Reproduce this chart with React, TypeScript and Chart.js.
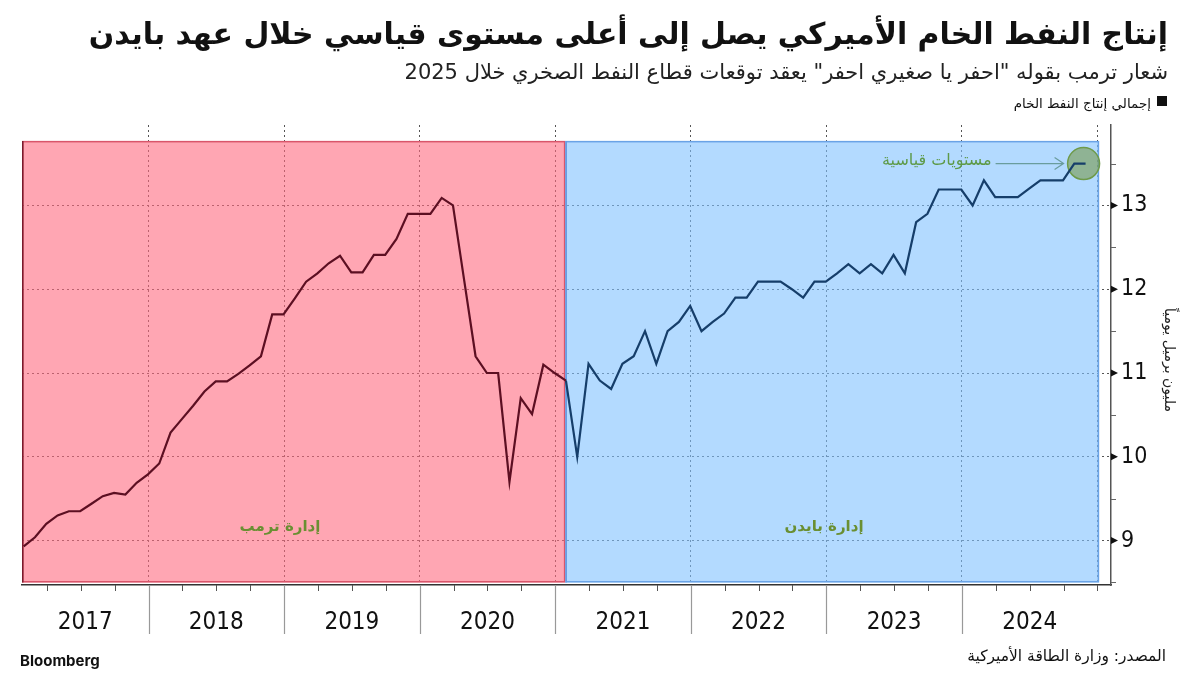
import { useEffect, useRef } from "react";
import { Chart, registerables } from "chart.js";

Chart.register(...registerables);

// ---------- DATA ----------
// Monthly U.S. crude oil production (million barrels per day), Jan 2017 – Nov 2024
const PRODUCTION = [
  8.93, 9.04, 9.2, 9.3, 9.35, 9.35, 9.44, 9.53, 9.57, 9.55, 9.69, 9.79, // 2017
  9.92, 10.29, 10.45, 10.61, 10.78, 10.9, 10.9, 10.99, 11.09, 11.2, 11.7, 11.7, // 2018
  11.89, 12.09, 12.19, 12.31, 12.4, 12.2, 12.2, 12.41, 12.41, 12.6, 12.9, 12.9, // 2019
  12.9, 13.09, 13.0, 12.1, 11.2, 11.0, 11.0, 9.7, 10.7, 10.51, 11.1, 11.0, // 2020
  10.91, 10.0, 11.11, 10.91, 10.81, 11.11, 11.2, 11.5, 11.11, 11.5, 11.61, 11.8, // 2021
  11.5, 11.61, 11.71, 11.9, 11.9, 12.09, 12.09, 12.09, 12.0, 11.9, 12.09, 12.09, // 2022
  12.19, 12.3, 12.19, 12.3, 12.19, 12.41, 12.19, 12.8, 12.9, 13.19, 13.19, 13.19, // 2023
  13.0, 13.3, 13.1, 13.1, 13.1, 13.2, 13.3, 13.3, 13.3, 13.5, 13.5, // 2024
];
const YEARS = ["2017", "2018", "2019", "2020", "2021", "2022", "2023", "2024"];
const Y_TICKS = [9, 10, 11, 12, 13];
const TRANSITION_INDEX = 48; // Jan 2021 – Biden inauguration
const TRUMP_LABEL = "إدارة ترمب";
const BIDEN_LABEL = "إدارة بايدن";
const RECORD_LABEL = "مستويات قياسية";

const TITLE = "إنتاج النفط الخام الأميركي يصل إلى أعلى مستوى قياسي خلال عهد بايدن";
const SUBTITLE = 'شعار ترمب بقوله "احفر يا صغيري احفر" يعقد توقعات قطاع النفط الصخري خلال 2025';
const LEGEND = "إجمالي إنتاج النفط الخام";
const Y_TITLE = "مليون برميل يومياً";
const SOURCE = "المصدر: وزارة الطاقة الأميركية";

// ---------- STYLE ----------
const AR = "'DejaVu Sans', sans-serif";
const NARROW = "'Liberation Sans Narrow', 'DejaVu Sans Condensed', 'Liberation Sans', sans-serif";
const X_MIN = 0.8;
const X_MAX = 97.2;
const Y_MIN = 8.47;
const Y_MAX = 13.96;
const POINT_OFFSET = 0.95; // month value plotted at month end
const BOX_TOP = 13.77;
const BOX_BOTTOM = 8.5;
const TRANSITION_X = 48.9;
const PERIOD_END = 96.15;

const monthX = (i: number) => i + POINT_OFFSET;

function fitFont(ctx: CanvasRenderingContext2D, text: string, weight: string, family: string, target: number, maxSize: number) {
  ctx.font = `${weight} 20px ${family}`;
  const w = ctx.measureText(text).width;
  return Math.min(maxSize, (20 * target) / w);
}

const decor = {
  id: "decor",
  beforeDatasetsDraw(chart: any) {
    const { ctx, scales } = chart;
    const x = scales.x;
    const y = scales.y;
    const t = y.getPixelForValue(BOX_TOP);
    const b = y.getPixelForValue(BOX_BOTTOM);
    const periods = [
      { s: X_MIN, e: TRANSITION_X, fill: "rgba(255,107,128,0.6)", stroke: "#d9566b", left: "#7a1a2c" },
      { s: TRANSITION_X, e: PERIOD_END, fill: "rgba(128,193,255,0.6)", stroke: "#6aa3e6", left: "#6a9be0" },
    ];
    ctx.save();
    periods.forEach((p) => {
      const l = x.getPixelForValue(p.s);
      const r = x.getPixelForValue(p.e);
      ctx.fillStyle = p.fill;
      ctx.fillRect(l, t, r - l, b - t);
      ctx.strokeStyle = p.stroke;
      ctx.lineWidth = 1.5;
      ctx.strokeRect(l + 0.75, t + 0.75, r - l - 1.5, b - t - 1.5);
      ctx.strokeStyle = p.left;
      ctx.beginPath();
      ctx.moveTo(l + 0.75, t);
      ctx.lineTo(l + 0.75, b);
      ctx.stroke();
    });
    // period labels
    ctx.fillStyle = "#6a8f32";
    ctx.font = `bold 15px ${AR}`;
    ctx.textAlign = "center";
    ctx.textBaseline = "middle";
    ctx.direction = "rtl";
    ctx.fillText(TRUMP_LABEL, x.getPixelForValue(23.64), y.getPixelForValue(9.16));
    ctx.fillText(BIDEN_LABEL, x.getPixelForValue(71.8), y.getPixelForValue(9.16));
    // record circle
    const last = PRODUCTION.length - 1;
    const cx = x.getPixelForValue(monthX(last)) - 2;
    const cy = y.getPixelForValue(PRODUCTION[last]);
    ctx.beginPath();
    ctx.arc(cx, cy, 16, 0, Math.PI * 2);
    ctx.fillStyle = "rgba(120,153,77,0.6)";
    ctx.fill();
    ctx.strokeStyle = "#6e9a4a";
    ctx.lineWidth = 1.5;
    ctx.stroke();
    ctx.restore();
  },
  afterDraw(chart: any) {
    const { ctx, scales } = chart;
    const x = scales.x;
    const y = scales.y;
    const area = chart.chartArea;
    ctx.save();

    // record arrow + label
    const last = PRODUCTION.length - 1;
    const cx = x.getPixelForValue(monthX(last)) - 2;
    const cy = y.getPixelForValue(PRODUCTION[last]);
    ctx.strokeStyle = "#6a9c9c";
    ctx.lineWidth = 1.2;
    ctx.beginPath();
    ctx.moveTo(cx - 88, cy);
    ctx.lineTo(cx - 20, cy);
    ctx.moveTo(cx - 29, cy - 6);
    ctx.lineTo(cx - 20, cy);
    ctx.lineTo(cx - 29, cy + 6);
    ctx.stroke();
    ctx.fillStyle = "#5e9a48";
    ctx.font = `16px ${AR}`;
    ctx.direction = "rtl";
    ctx.textAlign = "right";
    ctx.textBaseline = "middle";
    ctx.fillText(RECORD_LABEL, cx - 92, cy - 3);

    // y-axis arrow ticks and minor ticks
    const axX = area.right;
    ctx.fillStyle = "#111";
    Y_TICKS.forEach((v) => {
      const py = y.getPixelForValue(v);
      ctx.beginPath();
      ctx.moveTo(axX, py - 3.5);
      ctx.lineTo(axX + 7, py);
      ctx.lineTo(axX, py + 3.5);
      ctx.closePath();
      ctx.fill();
    });
    ctx.strokeStyle = "#666";
    ctx.lineWidth = 1;
    for (let v = 8.5; v <= 13.5; v += 1) {
      const py = Math.round(y.getPixelForValue(v)) + 0.5;
      ctx.beginPath();
      ctx.moveTo(axX, py);
      ctx.lineTo(axX + 5, py);
      ctx.stroke();
    }

    // x-axis quarter ticks, year separators, year labels
    const bottom = area.bottom;
    ctx.strokeStyle = "#555";
    for (let q = 3; q <= 96; q += 3) {
      const px = Math.round(x.getPixelForValue(q)) + 0.5;
      ctx.beginPath();
      ctx.moveTo(px, bottom);
      ctx.lineTo(px, bottom + 6);
      ctx.stroke();
    }
    ctx.strokeStyle = "#999";
    ctx.lineWidth = 1.2;
    for (let i = 1; i < YEARS.length; i++) {
      const px = Math.round(x.getPixelForValue(i * 12)) + 0.5;
      ctx.beginPath();
      ctx.moveTo(px, bottom);
      ctx.lineTo(px, bottom + 49);
      ctx.stroke();
    }
    ctx.fillStyle = "#111";
    ctx.font = `24px ${NARROW}`;
    ctx.direction = "ltr";
    ctx.textAlign = "center";
    ctx.textBaseline = "middle";
    YEARS.forEach((yr, i) => {
      const s = Math.max(i * 12, X_MIN);
      const e = Math.min((i + 1) * 12, 96);
      const px = (x.getPixelForValue(s) + x.getPixelForValue(e)) / 2;
      ctx.fillText(yr, px, bottom + 38);
    });

    // y-axis title (rotated)
    ctx.save();
    ctx.translate(1169, 360);
    ctx.rotate(Math.PI / 2);
    ctx.font = `14px ${AR}`;
    ctx.direction = "rtl";
    ctx.textAlign = "center";
    ctx.textBaseline = "middle";
    ctx.fillStyle = "#222";
    ctx.fillText(Y_TITLE, 0, 0);
    ctx.restore();

    // titles
    ctx.direction = "rtl";
    ctx.textAlign = "right";
    ctx.textBaseline = "alphabetic";
    ctx.fillStyle = "#111";
    const ts = fitFont(ctx, TITLE, "bold", AR, 1080, 34);
    ctx.font = `bold ${ts}px ${AR}`;
    ctx.fillText(TITLE, 1168, 44);
    const ss = fitFont(ctx, SUBTITLE, "normal", AR, 780, 21);
    ctx.font = `${ss}px ${AR}`;
    ctx.fillStyle = "#222";
    ctx.fillText(SUBTITLE, 1168, 79);
    // legend
    ctx.fillStyle = "#111";
    ctx.fillRect(1157, 96, 10, 10);
    ctx.font = `13.5px ${AR}`;
    ctx.fillText(LEGEND, 1151, 108);
    // source
    const ss2 = fitFont(ctx, SOURCE, "normal", AR, 199, 16);
    ctx.font = `${ss2}px ${AR}`;
    ctx.fillText(SOURCE, 1166, 661);
    // bloomberg
    ctx.direction = "ltr";
    ctx.textAlign = "left";
    ctx.font = `bold 15px Inter, 'Liberation Sans', sans-serif`;
    ctx.fillText("Bloomberg", 20, 666);

    ctx.restore();
  },
};

export default function App() {
  const ref = useRef<HTMLCanvasElement>(null);
  useEffect(() => {
    if (!ref.current) return;
    const trump = PRODUCTION.slice(0, TRANSITION_INDEX + 1).map((v, i) => ({ x: monthX(i), y: v }));
    const biden = PRODUCTION.slice(TRANSITION_INDEX).map((v, i) => ({ x: monthX(i + TRANSITION_INDEX), y: v }));
    const chart = new Chart(ref.current, {
      type: "line",
      data: {
        datasets: [
          { data: trump, borderColor: "#5c0f22", borderWidth: 2.2, pointRadius: 0, tension: 0, fill: false },
          { data: biden, borderColor: "#163e6a", borderWidth: 2.2, pointRadius: 0, tension: 0, fill: false },
        ],
      },
      options: {
        responsive: false,
        animation: false,
        devicePixelRatio: 1,
        layout: { padding: { left: 22, top: 125, right: 0, bottom: 0 } },
        plugins: { legend: { display: false }, tooltip: { enabled: false }, title: { display: false } },
        scales: {
          x: {
            type: "linear",
            min: X_MIN,
            max: X_MAX,
            afterBuildTicks: (s: any) => {
              s.ticks = YEARS.map((_, i) => ({ value: (i + 1) * 12 }));
            },
            afterFit: (s: any) => {
              s.height = 90;
            },
            ticks: { display: false },
            grid: { color: "#555", lineWidth: 1, drawTicks: false },
            border: { display: true, color: "#333", width: 1.5, dash: [2, 3] },
          },
          y: {
            position: "right",
            min: Y_MIN,
            max: Y_MAX,
            afterBuildTicks: (s: any) => {
              s.ticks = Y_TICKS.map((v) => ({ value: v }));
            },
            afterFit: (s: any) => {
              s.width = 89;
            },
            ticks: { padding: 10, color: "#111", font: { family: NARROW, size: 23 }, callback: (v: any) => String(v) },
            grid: { color: "#555", lineWidth: 1, drawTicks: false },
            border: { display: true, color: "#555", width: 1.5, dash: [2, 3] },
          },
        },
      } as any,
      plugins: [decor],
    });
    return () => chart.destroy();
  }, []);
  return (
    <div style={{ position: "fixed", left: 0, top: 0, width: 1200, height: 675, background: "#fff" }}>
      <canvas ref={ref} width={1200} height={675} style={{ display: "block" }} />
    </div>
  );
}
